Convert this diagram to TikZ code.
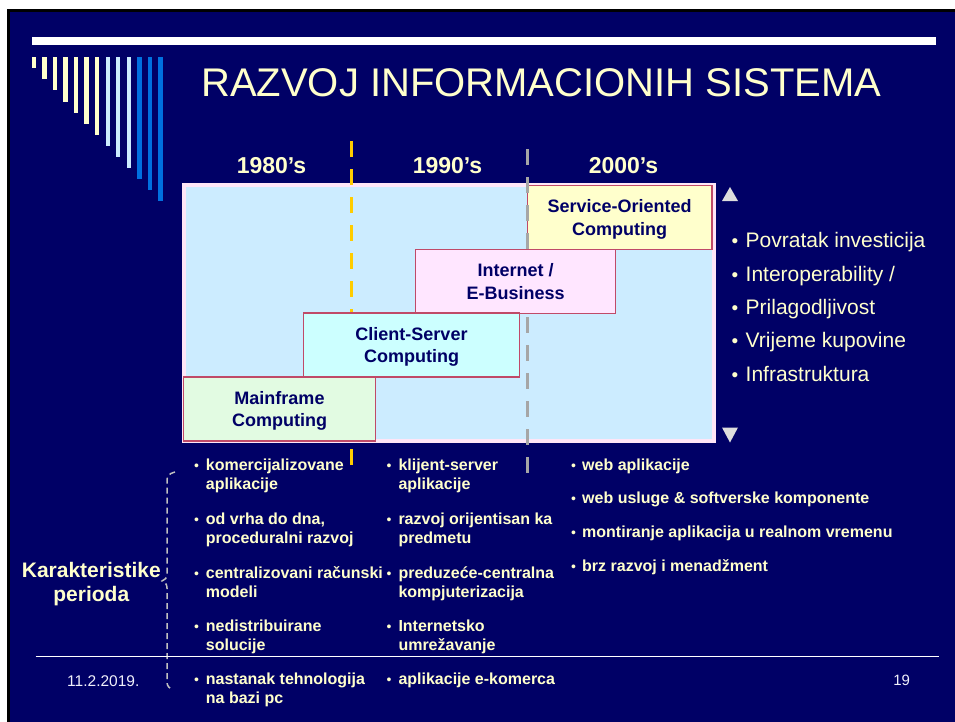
\documentclass[tikz,border=0pt]{standalone}
\usepackage{fontspec}
\setmainfont{Liberation Sans}
\definecolor{navy}{HTML}{000066}
\definecolor{lyel}{HTML}{FFFFCC}
\definecolor{lblue}{HTML}{CCECFF}
\definecolor{bblue}{HTML}{0070E0}
\definecolor{pinkb}{HTML}{FFE6F7}
\definecolor{boxred}{HTML}{C04A68}
\definecolor{mfill}{HTML}{E2FBE2}
\definecolor{cfill}{HTML}{CCFFFF}
\definecolor{ifill}{HTML}{FFE6FF}
\definecolor{sfill}{HTML}{FFFFCC}
\definecolor{dyel}{HTML}{FFCC00}
\definecolor{dgray}{HTML}{A6A6A6}
\definecolor{brgray}{HTML}{C0C0C0}
\definecolor{tri}{HTML}{DDDDDD}
\definecolor{foot}{HTML}{F0F0FA}
\begin{document}
\begin{tikzpicture}[x=1pt,y=-1pt,
  erabox/.style={draw=boxred,line width=1.3pt,inner sep=0pt,text=navy,
    font=\fontsize{18}{22.6}\selectfont\bfseries,align=center,
    minimum height=64pt,text depth=-3pt},
  hdr/.style={text=lyel,font=\fontsize{23}{27}\selectfont\bfseries,anchor=base,inner sep=0pt},
  lst/.style={text=lyel,font=\fontsize{16}{19.5}\selectfont\bfseries,align=left,anchor=base west,inner sep=0pt},
  blt/.style={text=lyel,font=\fontsize{14}{19.5}\selectfont,anchor=base,inner sep=0pt},
  rlst/.style={text=lyel,font=\fontsize{21}{25}\selectfont,anchor=base west,inner sep=0pt},
  rblt/.style={text=lyel,font=\fontsize{19}{25}\selectfont,anchor=base,inner sep=0pt},
  ftr/.style={text=foot,font=\fontsize{15.5}{18}\selectfont,anchor=base,inner sep=0pt}]
\useasboundingbox (0,0) rectangle (955,722);
% background and frame
\fill[white] (0,0) rectangle (955,722);
\fill[black] (7,9) rectangle (955,722);
\fill[navy] (10,12) rectangle (955,722);
% top rule
\fill[white] (32,37.3) rectangle (936,45);
% decorative bars
\foreach \i/\c in {0/lyel,1/lyel,2/lyel,3/lyel,4/lyel,5/lyel,6/lyel,7/lblue,8/lblue,9/lblue,10/bblue,11/bblue,12/bblue}
  \fill[\c] ({31.7+10.55*\i},57.3) rectangle ({36+10.55*\i},{68.3+11.08*\i});
% title
\node[text=lyel,font=\fontsize{40}{48}\selectfont,anchor=base west,inner sep=0pt] (title) at (201,96.7) {RAZVOJ INFORMACIONIH SISTEMA};
% headers
\node[hdr] (h80) at (271.5,174) {1980’s};
\node[hdr] (h90) at (447.5,174) {1990’s};
\node[hdr] (h00) at (623.5,174) {2000’s};
% main panel
\draw[pinkb,line width=4pt,fill=lblue] (183.7,185) rectangle (713.5,441.3);
% dashed separators
\coordinate (ya) at (351.7,141.3);
\coordinate (yb) at (351.7,465.3);
\coordinate (ga) at (527.7,149.3);
\coordinate (gb) at (527.7,473.3);
\draw[dyel,line width=3.3pt,dash pattern=on 16pt off 12pt] (ya) -- (yb);
\node[erabox,fill=sfill,minimum width=184.7pt] (soa) at (619.7,217.2) {Service-Oriented\\Computing};
\draw[dgray,line width=3.5pt,dash pattern=on 16pt off 12pt] (ga) -- (gb);
\node[erabox,fill=ifill,minimum width=200pt] (inet) at (515.7,281.3) {Internet /\\E-Business};
\node[erabox,fill=cfill,minimum width=216.4pt] (cs) at (411.5,345) {Client-Server\\Computing};
\node[erabox,fill=mfill,minimum width=192.4pt] (mf) at (279.5,409) {Mainframe\\Computing};
% triangles
\fill[tri] (722,201) -- (738,201) -- (730,187) -- cycle;
\fill[tri] (722,427.5) -- (738,427.5) -- (730,442.5) -- cycle;
% right list
\node[rblt] (rb1) at (735,247.4) {•};
\node[rlst] (r1) at (745.5,247.4) {Povratak investicija};
\node[rblt] (rb2) at (735,281) {•};
\node[rlst] (r2) at (745.5,281) {Interoperability /};
\node[rblt] (rb3) at (735,314.4) {•};
\node[rlst] (r3) at (745.5,314.4) {Prilagodljivost};
\node[rblt] (rb4) at (735,347.8) {•};
\node[rlst] (r4) at (745.5,347.8) {Vrijeme kupovine};
\node[rblt] (rb5) at (735,381.4) {•};
\node[rlst] (r5) at (745.5,381.4) {Infrastruktura};
% characteristics label and brace (base anchor = last line)
\node[text=lyel,font=\fontsize{21}{24}\selectfont\bfseries,align=center,anchor=base,inner sep=0pt] (kar) at (91.3,601.7) {Karakteristike\\perioda};
\draw[brgray,line width=1.5pt,dash pattern=on 6pt off 4pt]
  (175,472) .. controls (169,473.5) and (167,476) .. (167,480) -- (167,574)
  .. controls (167,578) and (165,580) .. (162,581)
  .. controls (165,582) and (167,584) .. (167,588) -- (167,682)
  .. controls (167,686) and (169,688.5) .. (173.5,689.5);
% column 1 (text nodes anchored at the baseline of their last line)
\node[blt] (b11) at (196.5,470) {•};
\node[lst] (c11) at (205.7,489.5) {komercijalizovane\\aplikacije};
\node[blt] (b12) at (196.5,524) {•};
\node[lst] (c12) at (205.7,543.5) {od vrha do dna,\\proceduralni razvoj};
\node[blt] (b13) at (196.5,578) {•};
\node[lst] (c13) at (205.7,597.5) {centralizovani računski\\modeli};
\node[blt] (b14) at (196.5,631) {•};
\node[lst] (c14) at (205.7,650.5) {nedistribuirane\\solucije};
\node[blt] (b15) at (196.5,684) {•};
\node[lst] (c15) at (205.7,703.5) {nastanak tehnologija\\na bazi pc};
% column 2
\node[blt] (b21) at (389,470) {•};
\node[lst] (c21) at (398.3,489.5) {klijent-server\\aplikacije};
\node[blt] (b22) at (389,524) {•};
\node[lst] (c22) at (398.3,543.5) {razvoj orijentisan ka\\predmetu};
\node[blt] (b23) at (389,578) {•};
\node[lst] (c23) at (398.3,597.5) {preduzeće-centralna\\kompjuterizacija};
\node[blt] (b24) at (389,631) {•};
\node[lst] (c24) at (398.3,650.5) {Internetsko\\umrežavanje};
\node[blt] (b25) at (389,684) {•};
\node[lst] (c25) at (398.3,684) {aplikacije e-komerca};
% column 3
\node[blt] (b31) at (573.5,470) {•};
\node[lst] (c31) at (582,470) {web aplikacije};
\node[blt] (b32) at (573.5,503.5) {•};
\node[lst] (c32) at (582,503.5) {web usluge \& softverske komponente};
\node[blt] (b33) at (573.5,537.5) {•};
\node[lst] (c33) at (582,537.5) {montiranje aplikacija u realnom vremenu};
\node[blt] (b34) at (573.5,571.5) {•};
\node[lst] (c34) at (582,571.5) {brz razvoj i menadžment};
% footer
\coordinate (fl) at (35.7,656.7);
\coordinate (fr) at (939,656.7);
\draw[white,line width=1.3pt] (fl) -- (fr);
\node[ftr] (date) at (103.3,686) {11.2.2019.};
\node[ftr,font=\fontsize{15}{18}\selectfont] (pg) at (901.7,685.7) {19};
\end{tikzpicture}
\end{document}
